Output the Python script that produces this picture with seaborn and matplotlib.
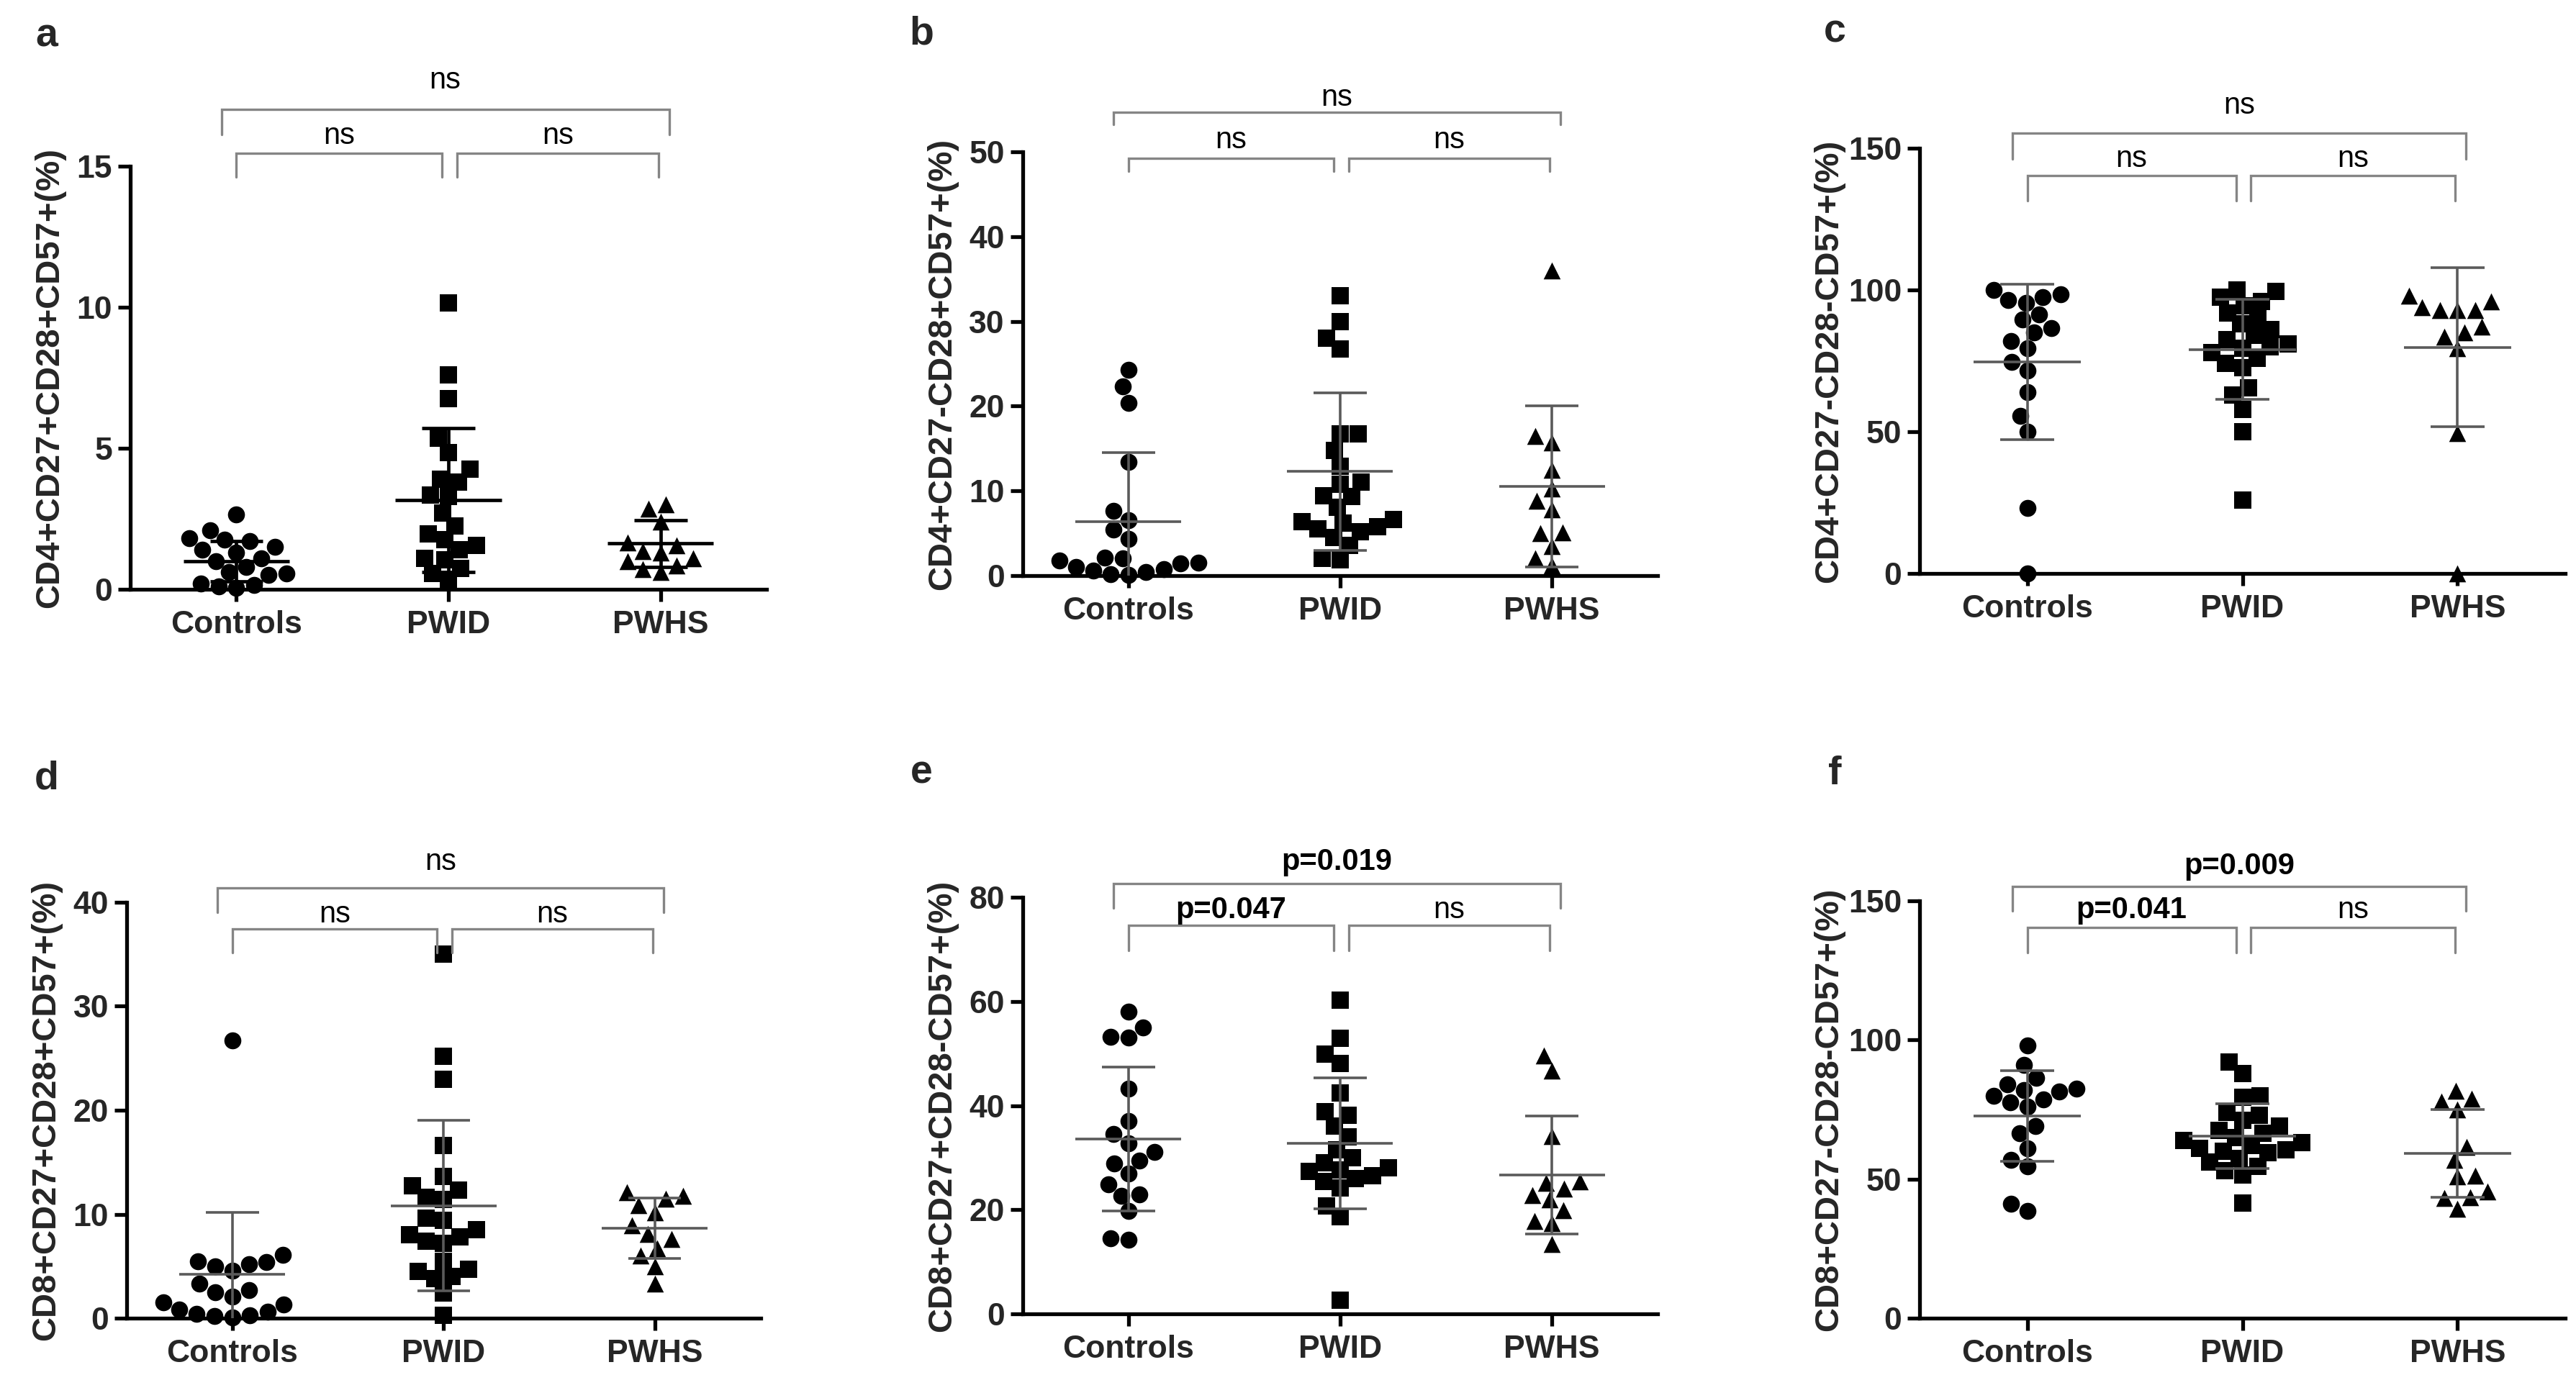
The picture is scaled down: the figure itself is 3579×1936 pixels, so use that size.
import warnings
warnings.filterwarnings("ignore")
import numpy as np
import pandas as pd
import matplotlib
matplotlib.use("Agg")
import matplotlib.pyplot as plt
import seaborn as sns

# ---------------- data ----------------
groups = ["Controls", "PWID", "PWHS"]
group_markers = ["o", "s", "^"]

# panel a
a_controls = [2.65, 2.1, 1.8, 1.75, 1.7, 1.5, 1.4, 1.3, 1.1, 1.0, 0.8, 0.6, 0.55, 0.5, 0.2, 0.15, 0.1, 0.05]
a_pwid = [10.15, 7.6, 6.75, 5.35, 4.85, 4.25, 3.9, 3.8, 3.35, 3.3, 2.7, 2.25, 1.95, 1.75, 1.55, 1.4, 1.1, 1.05, 0.75, 0.55, 0.3]
a_pwhs = [3.0, 2.85, 2.4, 1.65, 1.55, 1.35, 1.3, 1.1, 1.0, 0.85, 0.7, 0.6]
a_mean = [1.0, 3.17, 1.62]
a_sd = [0.72, 2.55, 0.83]

# panel b
b_controls = [24.3, 22.3, 20.4, 13.4, 7.6, 6.5, 5.4, 4.3, 2.1, 2.0, 1.8, 1.5, 1.4, 1.0, 0.8, 0.6, 0.4, 0.2, 0.1]
b_pwid = [33.0, 30.0, 28.0, 26.7, 16.7, 16.7, 14.8, 12.9, 11.0, 10.8, 9.4, 9.3, 8.1, 6.6, 6.4, 6.2, 5.8, 5.5, 5.2, 4.5, 3.6, 2.0, 1.9]
b_pwhs = [36.0, 16.5, 15.7, 12.5, 10.3, 8.8, 7.8, 5.1, 5.0, 3.5, 2.0, 1.2]
b_mean = [6.4, 12.3, 10.5]
b_sd = [8.1, 9.3, 9.5]

# panel c
c_controls = [100, 98.5, 97.5, 96.5, 95.5, 91.5, 89.5, 86.5, 85, 82, 79.5, 74.5, 71.5, 64, 55.5, 50, 23, 0]
c_pwid = [100, 99.5, 97.5, 96, 94.5, 92, 90, 88, 86, 84, 82.5, 81, 80, 79.5, 78, 76, 74, 72.5, 65.5, 63, 58, 50, 26]
c_pwhs = [98, 96, 94, 93, 93, 93, 87, 85, 83.5, 79.5, 49.5, 0]
c_mean = [74.6, 79.0, 79.8]
c_sd = [27.5, 17.6, 28.0]

# panel d
d_controls = [26.7, 6.1, 5.5, 5.4, 5.2, 5.0, 4.6, 3.3, 2.7, 2.5, 2.1, 1.5, 1.3, 0.8, 0.6, 0.4, 0.3, 0.2, 0.1]
d_pwid = [35.0, 25.2, 23.0, 16.6, 13.6, 12.7, 12.3, 11.6, 11.4, 9.6, 9.4, 8.5, 8.0, 7.8, 7.4, 7.2, 5.5, 4.7, 4.5, 4.0, 3.8, 2.4, 0.3]
d_pwhs = [12.1, 11.8, 11.5, 10.9, 10.2, 8.9, 8.1, 7.6, 6.7, 6.0, 5.0, 3.3]
d_mean = [4.2, 10.8, 8.65]
d_sd = [6.0, 8.2, 2.9]

# panel e
e_controls = [58.0, 55.0, 53.2, 53.1, 43.2, 37.1, 34.5, 32.8, 31.1, 29.5, 28.9, 26.9, 24.9, 23.0, 22.7, 19.7, 14.5, 14.3]
e_pwid = [60.3, 53.0, 49.9, 48.1, 42.4, 38.9, 38.1, 36.1, 34.0, 31.5, 30.0, 29.0, 28.0, 27.6, 27.3, 26.5, 26.0, 25.5, 24.2, 20.7, 18.6, 2.6]
e_pwhs = [49.6, 46.7, 34.2, 25.4, 25.2, 24.0, 22.8, 22.0, 19.9, 17.9, 17.4, 13.4]
e_mean = [33.6, 32.8, 26.7]
e_sd = [13.8, 12.6, 11.3]

# panel f
f_controls = [98.0, 91.0, 86.5, 84.0, 82.5, 82.0, 81.5, 80.0, 78.5, 77.5, 76.0, 69.0, 66.5, 61.0, 57.0, 54.5, 41.0, 38.5]
f_pwid = [92.0, 88.0, 80.0, 79.5, 74.0, 73.0, 71.0, 69.0, 67.5, 66.5, 65.0, 64.0, 63.0, 62.0, 61.0, 60.5, 60.0, 59.5, 57.5, 56.0, 54.5, 53.0, 51.5, 41.5]
f_pwhs = [81.8, 78.8, 77.8, 75.0, 61.5, 57.0, 51.3, 51.0, 45.5, 43.5, 43.2, 39.2]
f_mean = [72.6, 65.4, 59.3]
f_sd = [16.3, 11.6, 15.8]

letters = ["a", "b", "c", "d", "e", "f"]
ylabels = ["CD4+CD27+CD28+CD57+(%)", "CD4+CD27-CD28+CD57+(%)", "CD4+CD27-CD28-CD57+(%)",
           "CD8+CD27+CD28+CD57+(%)", "CD8+CD27+CD28-CD57+(%)", "CD8+CD27-CD28-CD57+(%)"]
ymaxes = [15, 50, 150, 40, 80, 150]
ytick_steps = [5, 10, 50, 10, 20, 50]
# comparison labels: [Controls vs PWHS, Controls vs PWID, PWID vs PWHS]
a_stats = ["ns", "ns", "ns"]
b_stats = ["ns", "ns", "ns"]
c_stats = ["ns", "ns", "ns"]
d_stats = ["ns", "ns", "ns"]
e_stats = ["p=0.019", "p=0.047", "ns"]
f_stats = ["p=0.009", "p=0.041", "ns"]

# ---------------- layout / style ----------------
sns.set_theme(style="ticks")
plt.rcParams["font.family"] = ["Liberation Sans", "DejaVu Sans"]

fig = plt.figure(figsize=(35.79, 19.36), dpi=100)

axes_pos = [
    (0.0506, 0.5770, 0.2470, 0.3037),
    (0.3970, 0.5868, 0.2465, 0.3042),
    (0.7452, 0.5883, 0.2506, 0.3053),
    (0.0492, 0.0537, 0.2460, 0.2986),
    (0.3970, 0.0568, 0.2465, 0.2990),
    (0.7452, 0.0537, 0.2506, 0.2996),
]
ylabel_x = [-0.102, -0.102, -0.116, -0.102, -0.102, -0.116]
# (upper line, upper tick end, upper text baseline, lower line, lower tick end, lower text baseline)
bracket_y = [
    (1.134, 1.075, 1.183, 1.031, 0.974, 1.053),
    (1.093, 1.064, 1.109, 0.984, 0.954, 1.008),
    (1.035, 0.975, 1.081, 0.936, 0.876, 0.956),
    (1.035, 0.976, 1.078, 0.936, 0.879, 0.952),
    (1.033, 0.974, 1.066, 0.933, 0.872, 0.950),
    (1.034, 0.976, 1.064, 0.936, 0.876, 0.959),
]
letter_pos = [(0.0182, 0.974), (0.3576, 0.9757), (0.7122, 0.977),
              (0.0182, 0.441), (0.3576, 0.445), (0.7122, 0.444)]

all_data = [
    (a_controls, a_pwid, a_pwhs, a_mean, a_sd, a_stats),
    (b_controls, b_pwid, b_pwhs, b_mean, b_sd, b_stats),
    (c_controls, c_pwid, c_pwhs, c_mean, c_sd, c_stats),
    (d_controls, d_pwid, d_pwhs, d_mean, d_sd, d_stats),
    (e_controls, e_pwid, e_pwhs, e_mean, e_sd, e_stats),
    (f_controls, f_pwid, f_pwhs, f_mean, f_sd, f_stats),
]

BR_COLOR = "#858585"
for i, (ctrl, pwid, pwhs, mean, sd, stats) in enumerate(all_data):
    ax = fig.add_axes(axes_pos[i])
    for g, vals, mk in zip(groups, (ctrl, pwid, pwhs), group_markers):
        df = pd.DataFrame({"group": [g] * len(vals), "value": vals})
        sns.swarmplot(data=df, x="group", y="value", order=groups, marker=mk,
                      color="black", size=17, linewidth=0, ax=ax)
    for coll in ax.collections:
        coll.set_clip_on(False)
        coll.set_zorder(2)

    # mean +/- SD
    if i == 0:
        ecol, elw = "black", 3.4
    else:
        ecol, elw = "#5a5a5a", 2.6
    xs = np.arange(len(groups))
    m = np.array(mean)
    s = np.array(sd)
    ax.hlines(m, xs - 0.25, xs + 0.25, color=ecol, lw=elw, zorder=3)
    ax.hlines(m + s, xs - 0.125, xs + 0.125, color=ecol, lw=elw, zorder=3)
    ax.hlines(m - s, xs - 0.125, xs + 0.125, color=ecol, lw=elw, zorder=3)
    ax.vlines(xs, m - s, m + s, color=ecol, lw=elw, zorder=3)

    ax.set_xlim(-0.5, 2.5)
    ax.set_ylim(0, ymaxes[i])
    ax.set_yticks(np.arange(0, ymaxes[i] + 0.1, ytick_steps[i]))
    ax.set_xticks(xs)
    ax.set_xticklabels(groups)
    ax.set_xlabel("")
    ax.set_ylabel(ylabels[i], fontsize=34, fontweight="bold")
    ax.yaxis.set_label_coords(ylabel_x[i], 0.5)
    for sp in ("top", "right"):
        ax.spines[sp].set_visible(False)
    for sp in ("left", "bottom"):
        ax.spines[sp].set_linewidth(3.8)
        ax.spines[sp].set_color("black")
    ax.tick_params(axis="both", width=3.8, length=12, color="black", labelsize=32, pad=6)
    ax.tick_params(axis="x", pad=9)
    for lab in ax.get_xticklabels() + ax.get_yticklabels():
        lab.set_fontweight("bold")
    ax.set_facecolor("none")

    # significance brackets
    U, Ut, Utxt, L, Lt, Ltxt = bracket_y[i]
    tr = ax.get_xaxis_transform()
    brackets = [((-0.07, 2.04), U, Ut, Utxt, stats[0]),
                ((0.0, 0.97), L, Lt, Ltxt, stats[1]),
                ((1.04, 1.99), L, Lt, Ltxt, stats[2])]
    for (x0, x1), yl, yt, ytxt, lab in brackets:
        ax.plot([x0, x0, x1, x1], [yt, yl, yl, yt], color=BR_COLOR, lw=2.4,
                transform=tr, clip_on=False, solid_joinstyle="miter")
        bold = lab != "ns"
        ax.text((x0 + x1) / 2, ytxt, lab, transform=tr, ha="center", va="baseline",
                fontsize=30, fontweight="bold" if bold else "normal", color="black")

    fig.text(letter_pos[i][0], letter_pos[i][1], letters[i], fontsize=40,
             fontweight="bold", ha="center", va="center")

fig.savefig("out.png", dpi=100, facecolor="white")
